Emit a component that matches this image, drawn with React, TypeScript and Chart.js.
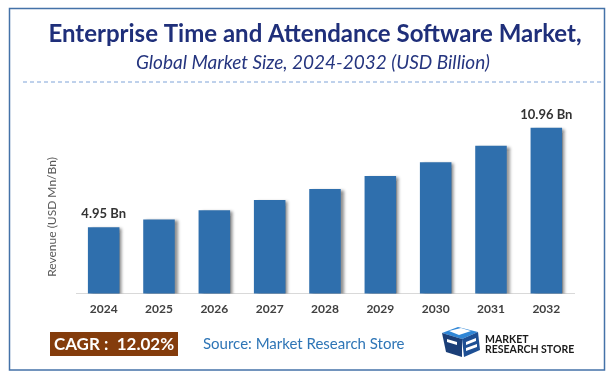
import React, { useEffect, useRef } from "react";
import { Chart, registerables } from "chart.js";

Chart.register(...registerables);

const years = ["2024", "2025", "2026", "2027", "2028", "2029", "2030", "2031", "2032"];
const revenue = [4.95, 5.42, 5.98, 6.59, 7.26, 8.05, 8.88, 9.87, 10.96];
const labelledIndexes = [0, 8];
const titleText = "Enterprise Time and Attendance Software Market,";
const subtitleText = "Global Market Size, 2024-2032 (USD Billion)";
const axisTitle = "Revenue (USD Mn/Bn)";
const cagrText = "CAGR :  12.02%";
const sourceText = "Source: Market Research Store";
const logoLines = ["MARKET", "RESEARCH STORE"];

const FONT = "Lato, 'Open Sans', sans-serif";

const decorations = {
  id: "decorations",
  beforeDraw(chart: any) {
    const ctx = chart.ctx as CanvasRenderingContext2D;
    ctx.save();
    ctx.fillStyle = "#ffffff";
    ctx.fillRect(0, 0, chart.width, chart.height);
    // border
    ctx.strokeStyle = "#4472a8";
    ctx.lineWidth = 1.5;
    ctx.strokeRect(9.5, 8.5, 595, 361.5);
    // title
    ctx.fillStyle = "#1f2f7a";
    ctx.textAlign = "center";
    ctx.textBaseline = "middle";
    ctx.font = `bold 24px ${FONT}`;
    ctx.fillText(titleText, 315, 34);
    ctx.fillStyle = "#25357f";
    ctx.font = `italic 19px ${FONT}`;
    ctx.fillText(subtitleText, 313, 63);
    // dashed line
    ctx.strokeStyle = "#7fa3d8";
    ctx.lineWidth = 1;
    ctx.setLineDash([4, 3]);
    ctx.beginPath();
    ctx.moveTo(23, 82);
    ctx.lineTo(601, 82);
    ctx.stroke();
    ctx.setLineDash([]);
    // axis title
    ctx.save();
    ctx.translate(52, 217);
    ctx.rotate(-Math.PI / 2);
    ctx.fillStyle = "#595959";
    ctx.font = `12px ${FONT}`;
    ctx.fillText(axisTitle, 0, 0);
    ctx.restore();
    ctx.restore();
  },
  beforeDatasetDraw(chart: any) {
    const ctx = chart.ctx as CanvasRenderingContext2D;
    ctx.save();
    ctx.shadowColor = "rgba(0,0,0,0.45)";
    ctx.shadowOffsetX = 3;
    ctx.shadowOffsetY = 1;
    ctx.shadowBlur = 3;
  },
  afterDatasetDraw(chart: any) {
    chart.ctx.restore();
  },
  afterDraw(chart: any) {
    const ctx = chart.ctx as CanvasRenderingContext2D;
    const meta = chart.getDatasetMeta(0);
    ctx.save();
    ctx.fillStyle = "#333333";
    ctx.font = `bold 13px ${FONT}`;
    ctx.textAlign = "center";
    ctx.textBaseline = "middle";
    labelledIndexes.forEach((i) => {
      const bar = meta.data[i];
      ctx.fillText(`${revenue[i].toFixed(2)} Bn`, bar.x, bar.y - 13);
    });
    // CAGR box
    ctx.fillStyle = "#843c0c";
    ctx.fillRect(50, 332, 128, 24);
    ctx.fillStyle = "#ffffff";
    ctx.font = `bold 17px ${FONT}`;
    ctx.fillText(cagrText, 114, 344.5);
    // source
    ctx.fillStyle = "#2e75b6";
    ctx.font = `15px ${FONT}`;
    ctx.textAlign = "left";
    ctx.fillText(sourceText, 203, 344.5);
    // logo icon
    const poly = (pts: number[][], color: string) => {
      ctx.fillStyle = color;
      ctx.beginPath();
      ctx.moveTo(pts[0][0], pts[0][1]);
      pts.slice(1).forEach((p) => ctx.lineTo(p[0], p[1]));
      ctx.closePath();
      ctx.fill();
    };
    poly([[442, 333], [458, 327], [478, 332], [462, 339]], "#2f86d6");
    poly([[442, 333], [462, 339], [462, 357], [446, 352]], "#1b3f78");
    poly([[462, 339], [478, 332], [480, 350], [464, 357]], "#1d4f94");
    poly([[449, 331], [461, 328], [471, 331], [459, 335]], "#ffffff");
    poly([[466, 342], [476, 338], [476, 341], [466, 345]], "#ffffff");
    poly([[466, 348], [477, 344], [477, 347], [466, 351]], "#ffffff");
    poly([[447, 339], [457, 342], [457, 345], [447, 342]], "#ffffff");
    ctx.fillStyle = "#1a1a1a";
    ctx.font = `bold 10.5px ${FONT}`;
    ctx.textBaseline = "middle";
    ctx.fillText(logoLines[0], 485, 340);
    ctx.fillText(logoLines[1], 485, 349.5);
    ctx.restore();
  },
};

export default function App() {
  const ref = useRef<HTMLCanvasElement | null>(null);
  useEffect(() => {
    if (!ref.current) return;
    const chart = new Chart(ref.current, {
      type: "bar",
      data: {
        labels: years,
        datasets: [
          {
            data: revenue,
            backgroundColor: "#2f6fad",
            borderWidth: 0,
            barPercentage: 0.57,
            categoryPercentage: 1,
          },
        ],
      },
      options: {
        responsive: false,
        animation: false,
        devicePixelRatio: 1,
        layout: { padding: { left: 76, right: 42, top: 94, bottom: 57 } },
        plugins: { legend: { display: false }, tooltip: { enabled: false } },
        scales: {
          x: {
            grid: { display: false, drawTicks: false },
            border: { display: true, color: "#d9d9d9", width: 1 },
            ticks: {
              color: "#404040",
              padding: 8,
              font: { family: FONT, size: 12, weight: "bold" },
            },
          },
          y: { display: false, min: 0.94, max: 13 },
        },
      },
      plugins: [decorations],
    });
    return () => chart.destroy();
  }, []);
  return (
    <div style={{ position: "absolute", left: 0, top: 0, width: 616, height: 381 }}>
      <canvas ref={ref} width={616} height={381} />
    </div>
  );
}
